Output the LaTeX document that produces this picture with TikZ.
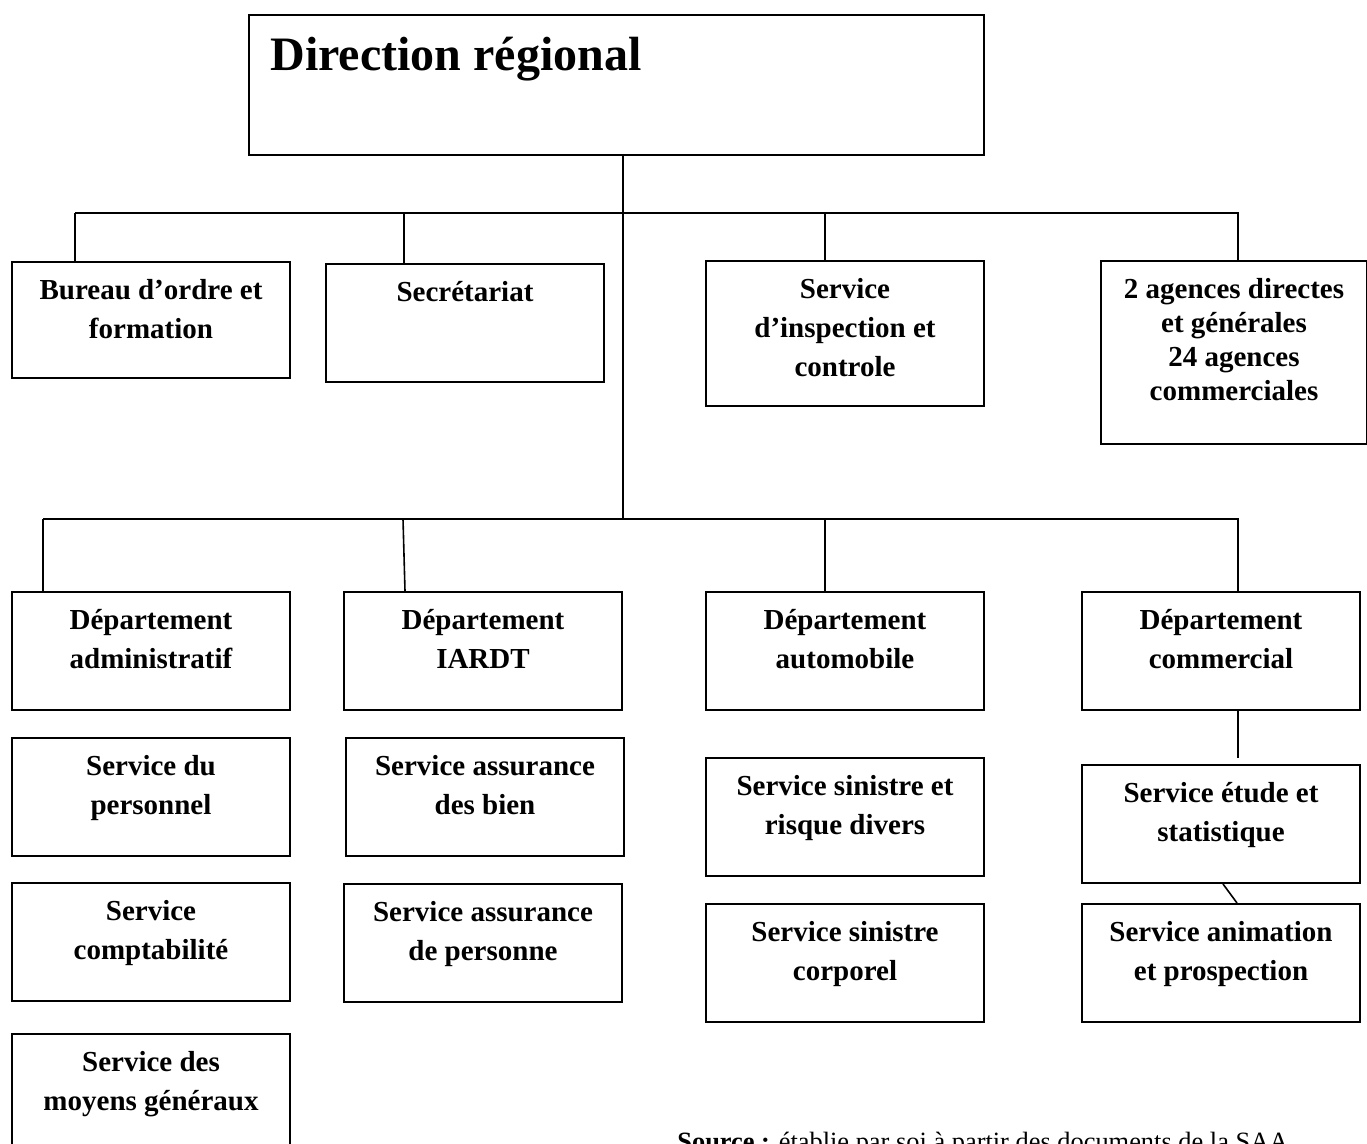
\documentclass[tikz,border=0pt]{standalone}
\usepackage{fontspec}
\setmainfont{Liberation Serif}
\usepackage{tikz}

\tikzset{
  unit/.style={draw, line width=1pt, anchor=north west, inner sep=0pt, minimum width=139pt, minimum height=59pt},
  tag/.style={anchor=north, yshift=-9pt, align=center, inner sep=0pt, font=\bfseries\fontsize{14.5pt}{19.5pt}\selectfont},
  link/.style={line width=0.8pt},
}

\begin{document}
\begin{tikzpicture}[x=0.5pt, y=-0.5pt]
        \useasboundingbox (0,0) rectangle (1367,1144);
        % direction
        \node[unit, minimum width=367.5pt, minimum height=70pt,
              label={[anchor=north west, inner sep=0pt, xshift=11pt, yshift=-11.5pt, font=\bfseries\fontsize{24pt}{28pt}\selectfont]north west:Direction régional}] (dr) at (248,14) {};
        % premier niveau
        \node[unit, minimum height=58pt, label={[tag]north:{Bureau d’ordre et\\formation}}] (bureau) at (11,261) {};
        \node[unit, label={[tag]north:{Secrétariat}}] (secr) at (325,263) {};
        \node[unit, minimum height=72.5pt, label={[tag]north:{Service\\d’inspection et\\controle}}] (insp) at (705,260) {};
        \node[unit, minimum width=133pt, minimum height=91.5pt,
              label={[tag, font=\bfseries\fontsize{14.5pt}{17pt}\selectfont]north:{2 agences directes\\et générales\\24 agences\\commerciales}}] (agences) at (1100,260) {};
        % départements
        \node[unit, label={[tag]north:{Département\\administratif}}] (adm) at (11,591) {};
        \node[unit, label={[tag]north:{Département\\IARDT}}] (iardt) at (343,591) {};
        \node[unit, label={[tag]north:{Département\\automobile}}] (auto) at (705,591) {};
        \node[unit, label={[tag]north:{Département\\commercial}}] (comm) at (1081,591) {};
        % services
        \node[unit, label={[tag]north:{Service du\\personnel}}] (pers) at (11,737) {};
        \node[unit, label={[tag]north:{Service\\comptabilité}}] (compta) at (11,882) {};
        \node[unit, minimum height=75pt, label={[tag]north:{Service des\\moyens généraux}}] (moyens) at (11,1033) {};
        \node[unit, label={[tag]north:{Service assurance\\des bien}}] (bien) at (345,737) {};
        \node[unit, label={[tag]north:{Service assurance\\de personne}}] (personne) at (343,883) {};
        \node[unit, label={[tag]north:{Service sinistre et\\risque divers}}] (risque) at (705,757) {};
        \node[unit, label={[tag]north:{Service sinistre\\corporel}}] (corporel) at (705,903) {};
        \node[unit, label={[tag]north:{Service étude et\\statistique}}] (etude) at (1081,764) {};
        \node[unit, label={[tag]north:{Service animation\\et prospection}}] (anim) at (1081,903) {};
        % source
        \node[anchor=base west, inner sep=0pt, font=\fontsize{13.2pt}{16pt}\selectfont] (src) at (677,1150)
              {\textbf{Source :} établie par soi à partir des documents de la SAA};
        % lignes
        \coordinate (t0) at (623,154);
        \coordinate (t1) at (623,519);
        \coordinate (b1) at (75,213);
        \coordinate (b2) at (43,519);
        \draw[link] (t0) -- (t1);
        \draw[link] (b1) -- (1238,213) -- (agences.north -| 1238,0);
        \draw[link] (b1) -- (b1 |- bureau.north);
        \draw[link] (404,213) -- (secr.north -| 404,0);
        \draw[link] (825,213) -- (insp.north -| 825,0);
        \draw[link] (b2) -- (1238,519) -- (comm.north -| 1238,0);
        \draw[link] (b2) -- (b2 |- adm.north);
        \draw[link] (403,519) -- (iardt.north -| 405,0);
        \draw[link] (825,519) -- (auto.north -| 825,0);
        \draw[link] (comm.south -| 1238,0) -- (1238,758);
        \draw[link] (etude.south -| 1223,0) -- (anim.north -| 1237,0);
\end{tikzpicture}
\end{document}
